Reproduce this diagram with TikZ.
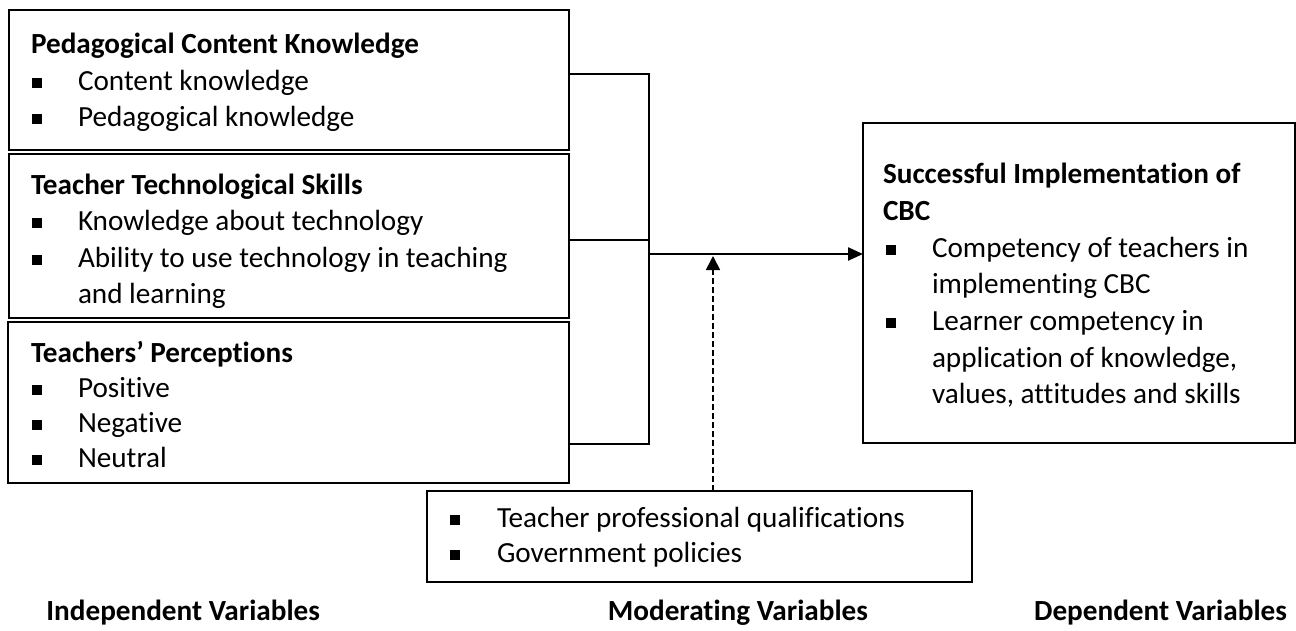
\documentclass[tikz,border=0pt]{standalone}
\usepackage{fontspec}
\setmainfont{Carlito}[RawFeature={-liga}]
\usetikzlibrary{arrows.meta,calc}
\begin{document}
\begin{tikzpicture}[x=1pt,y=-1pt,
  every node/.style={inner sep=0pt, outer sep=0pt},
  frame/.style={draw, line width=2.2pt, anchor=north west},
  head/.style={anchor=base west, font=\fontsize{29.2}{35}\selectfont\bfseries},
  item/.style={anchor=base west, font=\fontsize{29.2}{35}\selectfont},
  caption/.style={anchor=base east, font=\fontsize{29.2}{35}\selectfont\bfseries},
  sq/.style={fill=black, minimum width=10pt, minimum height=10pt, anchor=south west},
  link/.style={line width=1.2pt},
  mainarrow/.style={line width=2.4pt, -{Triangle[length=15pt,width=13pt]}},
  modarrow/.style={line width=1.7pt, dash pattern=on 6pt off 3pt, -{Triangle[length=14pt,width=14pt]}}]
\useasboundingbox (0,0) rectangle (1296,630);

% independent variable boxes
\node[frame, minimum width=560pt, minimum height=140pt] (pck) at (9,10) {};
\node[frame, minimum width=560pt, minimum height=164pt] (tts) at (9,154) {};
\node[frame, minimum width=561pt, minimum height=161pt] (tp) at (8,322) {};

\node[head] (pckh) at (31,53) {Pedagogical Content Knowledge};
\node[sq] (pckb1) at (32,88) {};
\node[item] (pcki1) at (78,90) {Content knowledge};
\node[sq] (pckb2) at (32,124) {};
\node[item] (pcki2) at (78,126) {Pedagogical knowledge};

\node[head] (ttsh) at (31,194) {Teacher Technological Skills};
\node[sq] (ttsb1) at (32,228) {};
\node[item] (ttsi1) at (78,230) {Knowledge about technology};
\node[sq] (ttsb2) at (32,265) {};
\node[item] (ttsi2) at (78,267) {Ability to use technology in teaching};
\node[item] (ttsi3) at (78,303) {and learning};

\node[head] (tph) at (31,362) {Teachers’ Perceptions};
\node[sq] (tpb1) at (32,395) {};
\node[item] (tpi1) at (78,397) {Positive};
\node[sq] (tpb2) at (32,430) {};
\node[item] (tpi2) at (78,432) {Negative};
\node[sq] (tpb3) at (32,465) {};
\node[item] (tpi3) at (78,467) {Neutral};

% dependent variable box
\node[frame, minimum width=432pt, minimum height=320pt] (result) at (863,123) {};
\node[head] (resh1) at (883,183) {Successful Implementation of};
\node[head] (resh2) at (883,220) {CBC};
\node[sq] (resb1) at (886,255) {};
\node[item] (resi1) at (932,257) {Competency of teachers in};
\node[item] (resi2) at (932,293) {implementing CBC};
\node[sq] (resb2) at (886,328) {};
\node[item] (resi3) at (932,330) {Learner competency in};
\node[item] (resi4) at (932,367) {application of knowledge,};
\node[item] (resi5) at (932,403) {values, attitudes and skills};

% moderating variable box
\node[frame, minimum width=545pt, minimum height=91pt] (mod) at (427,491) {};
\node[sq] (modb1) at (450,525) {};
\node[item] (modi1) at (497,527) {Teacher professional qualifications};
\node[sq] (modb2) at (450,560) {};
\node[item] (modi2) at (497,562) {Government policies};

% column captions
\node[caption] (capi) at (320,620) {Independent Variables};
\node[caption] (capm) at (868,620) {Moderating Variables};
\node[caption] (capd) at (1287,620) {Dependent Variables};

% bracket joining the three boxes
\coordinate (join) at (649,254);
\coordinate (t1) at ([yshift=6pt]pck.east);
\coordinate (t2) at ([yshift=-4pt]tts.east);
\coordinate (t3) at ([yshift=-41.5pt]tp.east);
\draw[link] (t1) -- (t1 -| join) -- (t3 -| join) -- (t3);
\draw[link] (t2) -- (t2 -| join);
\draw[mainarrow] (join) -- (join -| result.west);

% moderating influence
\coordinate (dtip) at (713,256);
\draw[modarrow] (dtip |- mod.north) -- (dtip);
\end{tikzpicture}
\end{document}
